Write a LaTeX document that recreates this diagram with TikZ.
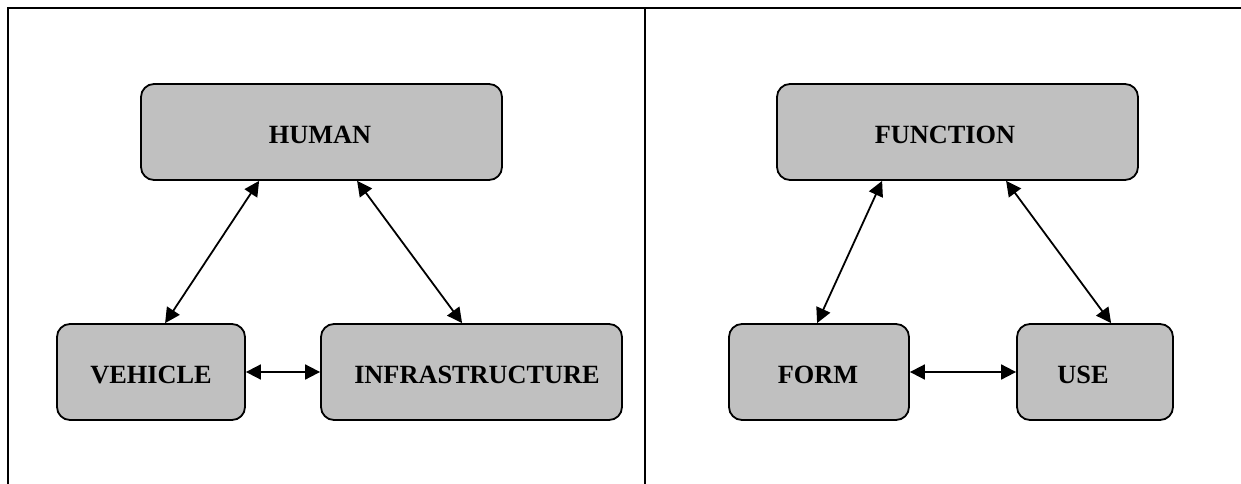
\documentclass[tikz,border=0pt]{standalone}
\usepackage{fontspec}
\setmainfont{Liberation Serif}
\usetikzlibrary{arrows.meta}
\definecolor{boxgray}{HTML}{C0C0C0}
\begin{document}
\begin{tikzpicture}[x=1pt,y=-1pt,
  box/.style={draw=black, fill=boxgray, line width=1.8pt, rounded corners=13pt},
  lbl/.style={anchor=base, inner sep=0pt, font=\fontsize{26.3pt}{30pt}\selectfont\bfseries},
  arr/.style={line width=1.8pt, {Triangle[length=15pt,width=15pt]}-{Triangle[length=15pt,width=15pt]}, shorten <=0pt, shorten >=0pt},
  frame/.style={line width=2pt}]
\useasboundingbox (0,0) rectangle (1241,484);
% frame
\coordinate (tl) at (7.5,8);
\coordinate (tr) at (1241,8);
\coordinate (bl) at (7.5,484);
\coordinate (mt) at (644.5,8);
\coordinate (mb) at (644.5,484);
\draw[frame] (bl) -- (tl) -- (tr);
\draw[frame] (mt) -- (mb);
% left diagram
\node[box, minimum width=361pt, minimum height=96pt] (human) at (321.5,132) {};
\node[box, minimum width=188pt, minimum height=96pt] (vehicle) at (151,372) {};
\node[box, minimum width=301pt, minimum height=96pt] (infra) at (471.5,372) {};
\node[lbl] (humanT) at (320,143) {HUMAN};
\node[lbl] (vehicleT) at (151,383) {VEHICLE};
\node[lbl] (infraT) at (477,383) {INFRASTRUCTURE};
\draw[arr] ([xshift=119pt]human.south west) -- ([xshift=109pt]vehicle.north west);
\draw[arr] ([xshift=217pt]human.south west) -- ([xshift=142pt]infra.north west);
\draw[arr] (vehicle.east) -- (infra.west);
% right diagram
\node[box, minimum width=361pt, minimum height=96pt] (function) at (957.5,132) {};
\node[box, minimum width=180pt, minimum height=96pt] (form) at (819,372) {};
\node[box, minimum width=156pt, minimum height=96pt] (use) at (1095,372) {};
\node[lbl] (functionT) at (945,143) {FUNCTION};
\node[lbl] (formT) at (818,383) {FORM};
\node[lbl] (useT) at (1083,383) {USE};
\draw[arr] ([xshift=106pt]function.south west) -- ([xshift=89pt]form.north west);
\draw[arr] ([xshift=230pt]function.south west) -- ([xshift=95pt]use.north west);
\draw[arr] (form.east) -- (use.west);
\end{tikzpicture}
\end{document}
